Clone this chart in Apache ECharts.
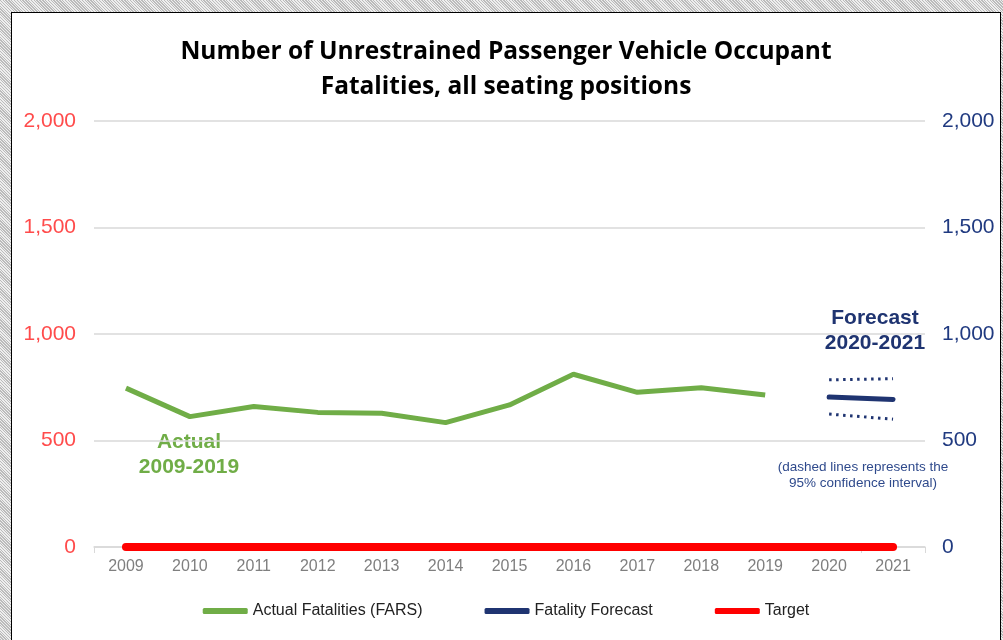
<!DOCTYPE html>
<html>
<head>
<meta charset="utf-8">
<script src="https://cdn.jsdelivr.net/npm/echarts@6/dist/echarts.min.js"></script>
<style>
  html, body { margin: 0; padding: 0; background: #fff; }
  #frame { position: absolute; left: 0; top: 0; width: 1003px; height: 640px; background: repeating-linear-gradient(45deg, #bbb 0 1px, #eee 1px 2px); }
  #chart { position: absolute; left: 11px; top: 12px; width: 990px; height: 640px; background: #fff; border: 1px solid #000; box-sizing: border-box; }
</style>
</head>
<body>
<div id="frame"></div>
<div id="chart"></div>
<script>
const years = ['2009','2010','2011','2012','2013','2014','2015','2016','2017','2018','2019','2020','2021']
const actual = [746, 612, 660, 632, 628, 584, 667, 811, 726, 748, 714, null, null]
const forecast = [null, null, null, null, null, null, null, null, null, null, null, 704, 693]
const upperCI = [null, null, null, null, null, null, null, null, null, null, null, 785, 790]
const lowerCI = [null, null, null, null, null, null, null, null, null, null, null, 624, 600]
const target = [0, 0, 0, 0, 0, 0, 0, 0, 0, 0, 0, 0, 0]

const GREEN = '#70ad47'
const NAVY = '#1f3471'
const RED = '#ff0000'
const SANS = '"Liberation Sans", Arial, sans-serif'

main()

function main() {
  const chart = echarts.init(document.getElementById('chart'))

  const fmt = (v) => v.toLocaleString('en-US')

  const option = {
    animation: false,
    title: {
      text: 'Number of Unrestrained Passenger Vehicle Occupant\nFatalities, all seating positions',
      left: 'center',
      top: 17,
      textStyle: { fontFamily: 'Open Sans', fontWeight: 'bold', fontSize: 24.5, lineHeight: 35, color: '#000' }
    },
    grid: { left: 82, right: 75, top: 108, bottom: 104 },
    legend: {
      bottom: 27,
      itemGap: 62,
      itemWidth: 45,
      itemHeight: 6,
      textStyle: { fontFamily: SANS, fontSize: 16, color: '#222' },
      data: [
        { name: 'Actual Fatalities (FARS)', icon: 'roundRect', itemStyle: { color: GREEN } },
        { name: 'Fatality Forecast', icon: 'roundRect', itemStyle: { color: NAVY } },
        { name: 'Target', icon: 'roundRect', itemStyle: { color: RED } }
      ]
    },
    xAxis: {
      type: 'category',
      data: years,
      boundaryGap: true,
      axisLine: { lineStyle: { color: '#d9d9d9', width: 1.5 } },
      axisTick: { show: true, interval: (i) => i === 0 || i === 12, length: 6, lineStyle: { color: '#d9d9d9' } },
      axisLabel: { fontFamily: SANS, fontSize: 16, color: '#7f7f7f', margin: 12 }
    },
    yAxis: [
      {
        type: 'value', min: 0, max: 2000, interval: 500,
        axisLine: { show: false }, axisTick: { show: false },
        splitLine: { lineStyle: { color: '#d9d9d9', width: 1.5 } },
        axisLabel: { fontFamily: SANS, fontSize: 21, color: '#ff4b4b', margin: 18, formatter: fmt }
      },
      {
        type: 'value', min: 0, max: 2000, interval: 500, position: 'right',
        axisLine: { show: false }, axisTick: { show: false }, splitLine: { show: false },
        axisLabel: { fontFamily: SANS, fontSize: 21, color: '#203a80', margin: 17, formatter: fmt }
      }
    ],
    series: [
      {
        name: 'Actual Fatalities (FARS)', type: 'line', data: actual, symbol: 'none',
        lineStyle: { color: GREEN, width: 5 }, itemStyle: { color: GREEN }
      },
      {
        name: 'Fatality Forecast', type: 'line', data: forecast, symbol: 'none', yAxisIndex: 1,
        lineStyle: { color: NAVY, width: 5, cap: 'round' }, itemStyle: { color: NAVY }
      },
      {
        name: 'Upper 95%', type: 'line', data: upperCI, symbol: 'none', yAxisIndex: 1,
        lineStyle: { color: NAVY, width: 3, type: [2.5, 4.5] }
      },
      {
        name: 'Lower 95%', type: 'line', data: lowerCI, symbol: 'none', yAxisIndex: 1,
        lineStyle: { color: NAVY, width: 3, type: [2.5, 4.5] }
      },
      {
        name: 'Target', type: 'line', data: target, symbol: 'none', z: 5,
        lineStyle: { color: RED, width: 8, cap: 'round' }, itemStyle: { color: RED }
      }
    ],
    graphic: [
      {
        type: 'text', x: 188 - 11, y: 454 - 12,
        style: { text: 'Actual\n2009-2019', align: 'center', verticalAlign: 'middle', fill: GREEN, fontFamily: SANS, fontWeight: 'bold', fontSize: 21, lineHeight: 25 }
      },
      {
        type: 'text', x: 874 - 11, y: 330 - 12,
        style: { text: 'Forecast\n2020-2021', align: 'center', verticalAlign: 'middle', fill: NAVY, fontFamily: SANS, fontWeight: 'bold', fontSize: 21, lineHeight: 25 }
      },
      {
        type: 'text', x: 862 - 11, y: 474 - 12,
        style: { text: '(dashed lines represents the\n95% confidence interval)', align: 'center', verticalAlign: 'middle', fill: '#2f4a8c', fontFamily: SANS, fontSize: 13.5, lineHeight: 16 }
      }
    ]
  }
  chart.setOption(option)
}
</script>
</body>
</html>
